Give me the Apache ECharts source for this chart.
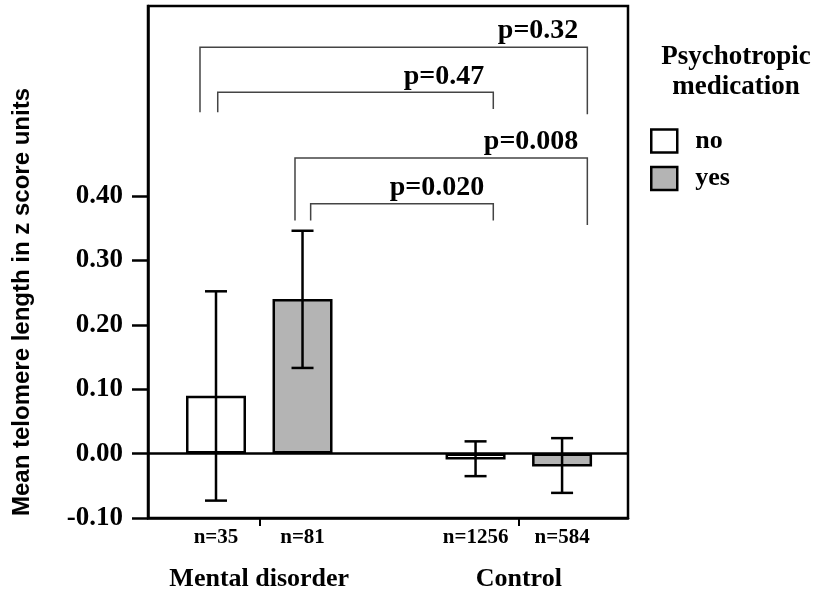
<!DOCTYPE html>
<html>
<head>
<meta charset="utf-8">
<script src="https://cdn.jsdelivr.net/npm/echarts@6/dist/echarts.min.js"></script>
<style>html,body{margin:0;padding:0;background:#fff}#c{width:825px;height:592px}</style>
</head>
<body>
<div id="c"></div>
<script>
// ---- data ----
const groups = ['Mental disorder', 'Control'];
const groupSlots = [1.5, 4.5];
const medication = ['no', 'yes'];
const nLabels = ['n=35', 'n=81', 'n=1256', 'n=584'];
const barSlots = [1, 2, 4, 5];            // slot of each bar: [no-MD, yes-MD, no-Ctrl, yes-Ctrl]
const noSlots = [1, 4];
const yesSlots = [2, 5];
const meanNo = [0.09, -0.009];
const meanYes = [0.24, -0.02];
const lowNo = [-0.073, -0.035];
const highNo = [0.252, 0.019];
const lowYes = [0.133, -0.061];
const highYes = [0.346, 0.024];
const yTicks = [-0.1, 0, 0.1, 0.2, 0.3, 0.4];
const groupTicks = [1.5, 4.5];
const pLabels = ['p=0.32', 'p=0.47', 'p=0.008', 'p=0.020'];
const bracketFrom = [0.815, 1.02, 1.913, 2.094];
const bracketTo = [5.292, 4.205, 5.292, 4.205];
const bracketTop = [0.631, 0.561, 0.459, 0.388];
const bracketLeftEnd = [0.530, 0.530, 0.362, 0.362];
const bracketRightEnd = [0.527, 0.535, 0.355, 0.362];
const axisTitle = 'Mean telomere length in z score units';
const legendTitle = 'Psychotropic\nmedication';

// ---- build ----
const SERIF = '"Liberation Serif", "Times New Roman", serif';
const errData = [];
noSlots.forEach((s, i) => errData.push([s, lowNo[i], highNo[i]]));
yesSlots.forEach((s, i) => errData.push([s, lowYes[i], highYes[i]]));
const bracketData = pLabels.map((p, i) => [bracketFrom[i], bracketTop[i], bracketTo[i], bracketLeftEnd[i], bracketRightEnd[i], i]);

const chart = echarts.init(document.getElementById('c'), null, {renderer: 'canvas'});
chart.setOption({
  animation: false,
  backgroundColor: '#fff',
  title: {
    text: legendTitle, left: 731, top: 37, textAlign: 'center',
    textStyle: {fontFamily: SERIF, fontWeight: 'bold', fontSize: 27, lineHeight: 30, color: '#000'}
  },
  legend: {
    data: medication, orient: 'vertical', left: 650, top: 128, padding: 0,
    itemWidth: 26, itemHeight: 23, itemGap: 11.5, icon: 'rect',
    itemStyle: {borderColor: '#000', borderWidth: 2.5},
    textStyle: {fontFamily: SERIF, fontWeight: 'bold', fontSize: 26, color: '#000', padding: [0, 0, 0, 13]},
    selectedMode: false
  },
  grid: {left: 148, right: 197, top: 6, bottom: 74, show: true, borderColor: '#000', borderWidth: 2.5, containLabel: false},
  xAxis: [{
    type: 'value', min: 0.214, max: 5.762, position: 'bottom',
    axisLine: {onZero: false, lineStyle: {color: '#000', width: 2.5}},
    axisTick: {customValues: groupTicks, length: 8, lineStyle: {color: '#000', width: 2}},
    axisLabel: {customValues: barSlots, margin: 9, formatter: v => nLabels[barSlots.indexOf(v)] || '',
      fontFamily: SERIF, fontWeight: 'bold', fontSize: 21, color: '#000'},
    splitLine: {show: false}
  }, {
    type: 'value', min: 0.214, max: 5.762, position: 'bottom',
    axisLine: {show: false, onZero: false}, axisTick: {show: false},
    axisLabel: {customValues: groupSlots, margin: 48, formatter: v => groups[groupSlots.indexOf(v)] || '',
      fontFamily: SERIF, fontWeight: 'bold', fontSize: 26, color: '#000'},
    splitLine: {show: false}
  }],
  yAxis: {
    type: 'value', min: -0.1, max: 0.695,
    name: axisTitle, nameLocation: 'middle', nameGap: 114,
    nameTextStyle: {fontFamily: '"Liberation Sans", Arial, sans-serif', fontWeight: 'bold', fontSize: 24, color: '#000', padding: [0, 80, 0, 0]},
    axisLine: {onZero: false, lineStyle: {color: '#000', width: 2.5}},
    axisTick: {customValues: yTicks, length: 16, lineStyle: {color: '#000', width: 2.5}},
    axisLabel: {customValues: yTicks, margin: 25, formatter: v => v.toFixed(2),
      fontFamily: SERIF, fontWeight: 'bold', fontSize: 27, color: '#000'},
    splitLine: {show: false}
  },
  series: [{
    name: 'no', type: 'bar', barWidth: 60, barGap: '-100%',
    data: noSlots.map((s, i) => [s, meanNo[i]]),
    itemStyle: {color: '#ffffff', borderColor: '#000', borderWidth: 2.5},
    markLine: {silent: true, symbol: 'none', label: {show: false},
      lineStyle: {color: '#000', width: 2.5, type: 'solid'}, data: [{yAxis: 0}]},
    z: 2
  }, {
    name: 'yes', type: 'bar', barWidth: 60, barGap: '-100%',
    data: yesSlots.map((s, i) => [s, meanYes[i]]),
    itemStyle: {color: '#b4b4b4', borderColor: '#000', borderWidth: 2.5},
    z: 2
  }, {
    type: 'custom', z: 5, silent: true,
    data: errData,
    encode: {x: 0, y: [1, 2]},
    renderItem: (params, api) => {
      const lo = api.coord([api.value(0), api.value(1)]);
      const hi = api.coord([api.value(0), api.value(2)]);
      const hw = 11;
      const st = {stroke: '#000', lineWidth: 2.5};
      return {type: 'group', children: [
        {type: 'line', shape: {x1: lo[0], y1: lo[1], x2: hi[0], y2: hi[1]}, style: st},
        {type: 'line', shape: {x1: lo[0] - hw, y1: lo[1], x2: lo[0] + hw, y2: lo[1]}, style: st},
        {type: 'line', shape: {x1: hi[0] - hw, y1: hi[1], x2: hi[0] + hw, y2: hi[1]}, style: st}
      ]};
    }
  }, {
    type: 'custom', z: 5, silent: true,
    data: bracketData,
    encode: {x: [0, 2], y: [1, 3, 4]},
    renderItem: (params, api) => {
      const x1 = api.value(0), yt = api.value(1), x2 = api.value(2), yl = api.value(3), yr = api.value(4);
      const idx = api.value(5);
      const a = api.coord([x1, yl]), b = api.coord([x1, yt]), c = api.coord([x2, yt]), d = api.coord([x2, yr]);
      return {type: 'group', children: [
        {type: 'polyline', shape: {points: [a, b, c, d]}, style: {stroke: '#444', lineWidth: 1.5, fill: null}},
        {type: 'text', x: c[0] - 9, y: c[1] - 2, style: {text: pLabels[idx], fill: '#000',
          font: 'bold 28px ' + SERIF, align: 'right', verticalAlign: 'bottom'}}
      ]};
    }
  }]
});
</script>
</body>
</html>
